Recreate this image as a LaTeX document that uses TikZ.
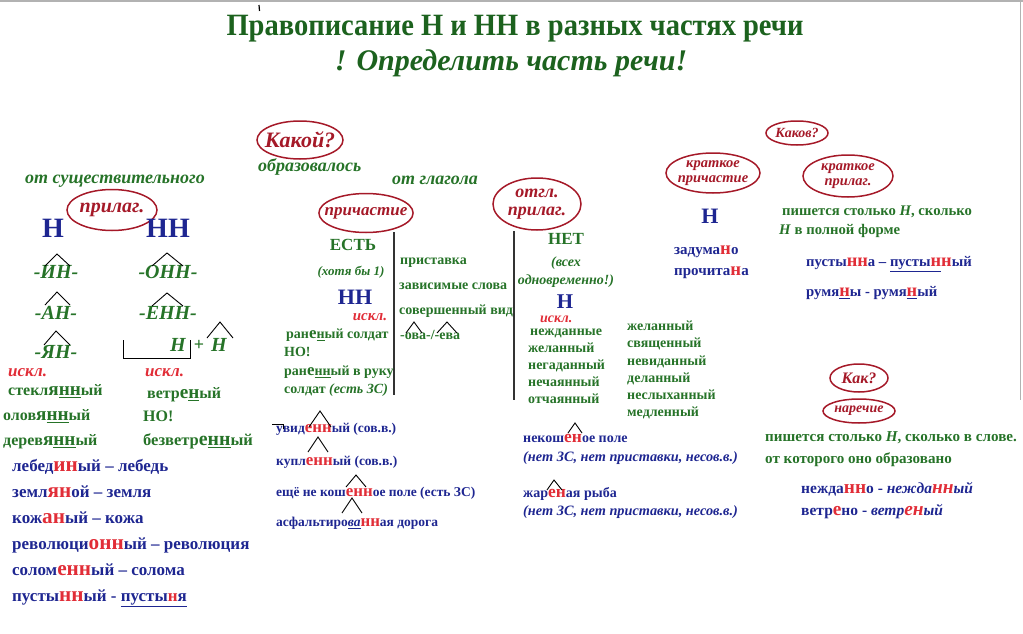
\documentclass[tikz,border=0pt]{standalone}
\usepackage{fontspec}
\setmainfont{Liberation Serif}
\usepackage{graphicx}
\usetikzlibrary{shapes.geometric}
\definecolor{titlegreen}{RGB}{28,98,30}
\definecolor{rulegreen}{RGB}{38,115,40}
\definecolor{ruleblue}{RGB}{30,38,145}
\definecolor{letterred}{RGB}{225,45,55}
\definecolor{ovalred}{RGB}{165,25,40}
\newcommand{\sz}[1]{\fontsize{#1}{#1}\selectfont}
\newcommand{\enl}[1]{\scalebox{1.2}{#1}}
\newcommand{\redl}[1]{\textcolor{letterred}{\scalebox{1.25}{#1}}}

\begin{document}
\begin{tikzpicture}[x=1pt, y=-1pt]
    % Define styles
    \tikzstyle{headline} = [text=titlegreen, font=\bfseries\sz{31}, inner sep=0pt]
    \tikzstyle{grn} = [text=rulegreen, font=\bfseries\sz{14}, inner sep=0pt, anchor=west, text height=0.7em, text depth=0.2em]
    \tikzstyle{grnit} = [text=rulegreen, font=\bfseries\itshape\sz{18}, inner sep=0pt, anchor=west, text height=0.7em, text depth=0.2em]
    \tikzstyle{blu} = [text=ruleblue, font=\bfseries\sz{14}, inner sep=0pt, anchor=west, text height=0.7em, text depth=0.2em]
    \tikzstyle{suffix} = [text=rulegreen, font=\bfseries\itshape\sz{20}, inner sep=0pt]
    \tikzstyle{letterH} = [text=ruleblue, font=\bfseries\sz{28}, inner sep=0pt]
    \tikzstyle{excl} = [text=letterred, font=\bfseries\itshape\sz{15}, inner sep=0pt, anchor=west, text height=0.7em, text depth=0.2em]
    \tikzstyle{oval} = [ellipse, draw=ovalred, line width=1.5pt, text=ovalred, font=\bfseries\itshape\sz{15}, inner sep=-8pt, align=center]
    \tikzstyle{wedge} = [black, line width=0.9pt]
    \tikzstyle{divider} = [black!80, line width=1.6pt]

    \useasboundingbox (0,0) rectangle (1023,634);
    \draw[gray!60, line width=1.5pt] (0,1) -- (1023,1);
    \draw[gray!60, line width=1.5pt] (1020.5,0) -- (1020.5,400);

    % Title
    \node[headline] (title) at (515,29) {\scalebox{0.92}[1]{Правописание Н и НН в разных частях речи}};
    \node[headline, font=\bfseries\itshape\sz{30}] (subtitle) at (511,63) {! Определить часть речи!};
    \draw[line width=1.2pt] (259,5) -- (259.5,11);

    % Adjectives from nouns
    \node[grnit, anchor=center] (fromnoun) at (115,181) {от существительного};
    \node[oval, minimum width=90pt, minimum height=41pt, font=\bfseries\itshape\sz{20}] (adjnoun) at (112,210) {прилаг.};
    \node[letterH] (oneN) at (53,228) {Н};
    \node[letterH] (twoN) at (168,228) {НН};
    \node[suffix] (in) at (56,272) {-ИН-};
    \node[suffix] (onn) at (168,272) {-ОНН-};
    \node[suffix] (an) at (56,313) {-АН-};
    \node[suffix] (enn) at (168,313) {-ЕНН-};
    \node[suffix] (yan) at (56,352) {-ЯН-};
    \node[suffix] (stemN) at (178,345) {Н};
    \node[suffix, font=\bfseries\sz{18}] (plus) at (199,345) {+};
    \node[suffix] (sufN) at (219,345) {Н};
    \draw[wedge] (45,266) -- (57,254) -- (70,266);
    \draw[wedge] (152,266) -- (167,253) -- (183,266);
    \draw[wedge] (45,305) -- (57,292) -- (70,305);
    \draw[wedge] (152,306) -- (167,293) -- (183,306);
    \draw[wedge] (44,345) -- (56,331) -- (70,345);
    \draw[wedge] (207,338) -- (220,322) -- (233,338);
    \draw[wedge] (123,340) -- (123,358) -- (190,358) -- (190,340);

    \node[excl, font=\bfseries\itshape\sz{17}] (exclA) at (8,374) {искл.};
    \node[excl, font=\bfseries\itshape\sz{17}] (exclB) at (145,374) {искл.};
    \node[grn, font=\bfseries\sz{16}] (glass) at (8,393) {стекл\enl{я}\underline{\enl{нн}}ый};
    \node[grn, font=\bfseries\sz{16}] (tin) at (3,418) {олов\enl{я}\underline{\enl{нн}}ый};
    \node[grn, font=\bfseries\sz{16}] (wood) at (3,443) {дерев\enl{я}\underline{\enl{нн}}ый};
    \node[grn, font=\bfseries\sz{16}] (windy) at (147,396) {ветр\enl{е}\underline{\enl{н}}ый};
    \node[grn, font=\bfseries\sz{16}] (butA) at (143,419) {НО!};
    \node[grn, font=\bfseries\sz{16.5}] (calm) at (143,443) {безветр\enl{е}\underline{\enl{нн}}ый};

    \node[blu, font=\bfseries\sz{17}] (swan) at (12,469) {лебед\redl{ин}ый – лебедь};
    \node[blu, font=\bfseries\sz{17}] (earth) at (12,495) {земл\redl{ян}ой – земля};
    \node[blu, font=\bfseries\sz{17}] (skin) at (12,521) {кож\redl{ан}ый – кожа};
    \node[blu, font=\bfseries\sz{17}] (revol) at (12,547) {революци\redl{онн}ый – революция};
    \node[blu, font=\bfseries\sz{17}] (straw) at (12,573) {солом\redl{енн}ый – солома};
    \node[blu, font=\bfseries\sz{17}] (desert) at (12,599) {пусты\redl{нн}ый - \underline{пусты\textcolor{letterred}{н}я}};

    % Participles
    \node[oval, minimum width=86pt, minimum height=38pt, font=\bfseries\itshape\sz{22}] (which) at (300,140) {Какой?};
    \node[grnit] (formed) at (258,169) {образовалось};
    \node[grnit] (fromverb) at (392,182) {от глагола};
    \node[oval, minimum width=94pt, minimum height=39pt, font=\bfseries\itshape\sz{17}] (partic) at (366,213) {причастие};
    \draw[divider] (394,232) -- (394,395);
    \node[grn, anchor=center, font=\bfseries\sz{17}] (yes) at (353,248) {ЕСТЬ};
    \node[grn, anchor=center, font=\bfseries\itshape\sz{13}] (atleast) at (351,273) {(хотя бы 1)};
    \node[letterH, font=\bfseries\sz{22}] (partNN) at (355,297) {НН};
    \node[excl, anchor=center] (exclC) at (370,318) {искл.};
    \node[grn] (wounded) at (286,336) {ран\enl{е}\underline{н}ый солдат};
    \node[grn] (butB) at (284,354) {НО!};
    \node[grn] (woundedarm) at (284,373) {ран\enl{е}\underline{нн}ый в руку};
    \node[grn] (soldier) at (284,391) {солдат \textit{(есть ЗС)}};
    \node[grn] (prefix) at (400,262) {приставка};
    \node[grn] (depwords) at (399,287) {зависимые слова};
    \node[grn] (perf) at (399,312) {совершенный вид};
    \node[grn] (ova) at (400,337) {-ова-/-ева};
    \draw[wedge] (406,333) -- (414,322) -- (422,333);
    \draw[wedge] (437,333) -- (447,322) -- (457,333);

    \node[blu, font=\bfseries\sz{13.5}] (seen) at (276,430) {увид\redl{енн}ый (сов.в.)};
    \node[blu, font=\bfseries\sz{13.5}] (bought) at (276,463) {купл\redl{енн}ый (сов.в.)};
    \node[blu, font=\bfseries\sz{13.5}] (mown) at (276,494) {ещё не кош\redl{енн}ое поле (есть ЗС)};
    \node[blu, font=\bfseries\sz{13.5}] (paved) at (276,524) {асфальтиро\underline{\textit{ва}}\redl{нн}ая дорога};
    \draw[wedge] (272,424) -- (283,424) -- (283,429);
    \draw[wedge] (309,427) -- (320,411) -- (331,427);
    \draw[wedge] (308,452) -- (318,437) -- (328,452);
    \draw[wedge] (346,487) -- (356,475) -- (366,487);
    \draw[wedge] (342,513) -- (352,498) -- (362,513);

    % Verbal adjectives
    \node[oval, minimum width=88pt, minimum height=52pt, font=\bfseries\itshape\sz{18}] (verbadj) at (537,204) {отгл.\\прилаг.};
    \draw[divider] (514,231) -- (514,400);
    \node[grn, anchor=center, font=\bfseries\sz{17}] (no) at (566,242) {НЕТ};
    \node[grn, anchor=center, font=\bfseries\itshape\sz{14}] (allof) at (566,264) {(всех};
    \node[grn, anchor=center, font=\bfseries\itshape\sz{14}] (simult) at (566,282) {одновременно!)};
    \node[letterH, font=\bfseries\sz{21}] (adjN) at (565,302) {Н};
    \node[excl, font=\bfseries\itshape\sz{14}] (exclD) at (540,320) {искл.};
    \node[grn] (unexp) at (530,333) {нежданные};
    \node[grn] (desired) at (528,350) {желанный};
    \node[grn] (unguess) at (528,367) {негаданный};
    \node[grn] (unintent) at (528,384) {нечаянный};
    \node[grn] (desper) at (528,401) {отчаянный};
    \node[grn] (desiredB) at (627,328) {желанный};
    \node[grn] (sacred) at (627,345) {священный};
    \node[grn] (unseen) at (627,363) {невиданный};
    \node[grn] (made) at (627,380) {деланный};
    \node[grn] (unheard) at (627,397) {неслыханный};
    \node[grn] (slow) at (627,414) {медленный};

    \node[blu] (unmown) at (523,440) {некош\redl{ен}ое поле};
    \node[blu, font=\bfseries\itshape\sz{14.3}] (noteA) at (523,459) {(нет ЗС, нет приставки, несов.в.)};
    \node[blu] (fried) at (523,495) {жар\redl{ен}ая рыба};
    \node[blu, font=\bfseries\itshape\sz{14.3}] (noteB) at (523,513) {(нет ЗС, нет приставки, несов.в.)};
    \draw[wedge] (568,433) -- (575,423) -- (582,433);
    \draw[wedge] (547,490) -- (554,480) -- (562,490);

    % Short forms
    \node[oval, minimum width=62pt, minimum height=24pt, font=\bfseries\itshape\sz{14}] (whatlike) at (797,133) {Каков?};
    \node[oval, minimum width=94pt, minimum height=40pt, font=\bfseries\itshape\sz{14.5}] (shortpart) at (713,173) {краткое\\причастие};
    \node[oval, minimum width=90pt, minimum height=42pt, font=\bfseries\itshape\sz{14.5}] (shortadj) at (848,176) {краткое\\прилаг.};
    \node[letterH, font=\bfseries\sz{22}] (shortN) at (710,216) {Н};
    \node[blu, font=\bfseries\sz{15}] (conceived) at (674,252) {задума\redl{н}о};
    \node[blu, font=\bfseries\sz{15}] (read) at (674,273) {прочита\redl{н}а};
    \node[grn, font=\bfseries\sz{14.7}] (asmany) at (782,213) {пишется столько \textit{Н}, сколько};
    \node[grn, font=\bfseries\sz{14.7}] (fullform) at (779,232) {\textit{Н} в полной форме};
    \node[blu, font=\bfseries\sz{14.7}] (empty) at (806,264) {пусты\redl{нн}а – \underline{пусты\redl{н}}\redl{н}ый};
    \node[blu, font=\bfseries\sz{14.7}] (ruddy) at (806,294) {румя\underline{\redl{н}}ы - румя\underline{\redl{н}}ый};

    % Adverbs
    \node[oval, minimum width=58pt, minimum height=28pt, font=\bfseries\itshape\sz{16}] (how) at (859,378) {Как?};
    \node[oval, minimum width=72pt, minimum height=24pt, font=\bfseries\itshape\sz{14}] (adverb) at (859,411) {наречие};
    \node[grn, font=\bfseries\sz{15.1}] (asinword) at (765,439) {пишется столько \textit{Н}, сколько в слове.};
    \node[grn, font=\bfseries\sz{15.1}] (source) at (765,461) {от которого оно образовано};
    \node[blu, font=\bfseries\sz{15.5}] (suddenly) at (801,491) {нежда\redl{нн}о - \textit{нежда\redl{нн}ый}};
    \node[blu, font=\bfseries\sz{15.5}] (frivol) at (801,513) {ветр\redl{е}но - \textit{ветр\redl{ен}ый}};
\end{tikzpicture}
\end{document}
